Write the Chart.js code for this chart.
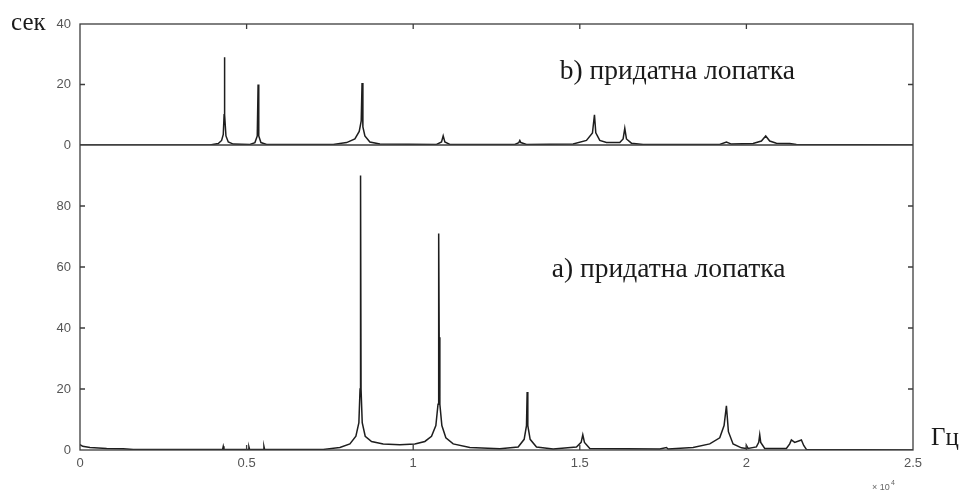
<!DOCTYPE html>
<html>
<head>
<meta charset="utf-8">
<script src="https://cdn.jsdelivr.net/npm/chart.js@4"></script>
<style>
  html, body { margin: 0; padding: 0; background: #fff; }
  #wrap { width: 964px; height: 493px; }
</style>
</head>
<body>
<div id="wrap"><canvas id="spectrum" width="964" height="493"></canvas></div>
<script>
// b) upper panel - frequency (Hz) and amplitude
const freqB = [0, 3900, 4150, 4250, 4300, 4325, 4335, 4345, 4380, 4450, 4600,
    5100, 5250, 5320, 5345, 5365, 5430, 5600,
    7600, 8000, 8250, 8380, 8440, 8465, 8490, 8550, 8700, 9000,
    10700, 10850, 10900, 10950, 11100,
    13050, 13170, 13200, 13230, 13400,
    14800, 15200, 15380, 15440, 15480, 15600, 15800,
    16200, 16300, 16350, 16400, 16550, 16900,
    19200, 19400, 19550, 20200, 20450, 20580, 20700, 20900, 21300, 21500, 25000];
const ampB = [0, 0, 0.5, 1.5, 3.5, 10, 29, 10, 3, 1, 0.3,
    0.2, 0.8, 3, 20, 3, 0.8, 0.2,
    0.2, 0.8, 2, 4.5, 8, 20.5, 6, 3, 1, 0.3,
    0.2, 1, 3, 1, 0.2,
    0.2, 0.8, 1.5, 0.8, 0.2,
    0.3, 1.5, 4, 10, 4, 1.5, 0.8,
    0.8, 2, 5.5, 2, 0.6, 0.2,
    0.2, 1, 0.3, 0.5, 1.3, 3, 1.3, 0.6, 0.5, 0.2, 0];

// a) lower panel
const freqA = [0, 80, 300, 800, 1300, 1600, 4280, 4300, 4320, 5050, 5070, 5090, 5500, 5520, 5540,
    7300, 7800, 8100, 8280, 8370, 8405, 8420, 8435, 8470, 8560, 8750, 9100, 9600,
    10050, 10350, 10550, 10680, 10745, 10760, 10770, 10780, 10800, 10860, 10980, 11200, 11700,
    12600, 13150, 13330, 13400, 13420, 13440, 13510, 13700, 14200,
    14900, 15040, 15090, 15140, 15300, 17400, 17600, 17650,
    18400, 18900, 19200, 19330, 19400, 19460, 19600, 19850, 19990, 20000, 20050,
    20300, 20370, 20400, 20430, 20550, 21200, 21300, 21350, 21450, 21650, 21720, 21800, 25000];
const ampA = [1.8, 1.2, 0.8, 0.5, 0.4, 0.2, 0.2, 1.2, 0.2, 0.2, 1, 0.2, 0.2, 1.2, 0.2,
    0.2, 0.8, 2, 4.5, 9, 20, 90, 20, 9, 4.5, 2.8, 2, 1.7,
    2, 2.8, 4.5, 8, 15, 37, 71, 37, 15, 8, 4, 2, 0.8,
    0.4, 1, 3.5, 8, 19, 8, 3.5, 1, 0.3,
    1, 2.5, 5, 2.5, 0.5, 0.3, 0.8, 0.3,
    0.8, 2, 4, 8, 14.5, 6, 2, 0.7, 0.5, 1.5, 0.5,
    1, 2.5, 5, 2.5, 0.5, 0.5, 2, 3.3, 2.5, 3.3, 1.5, 0.2, 0];

const xTicks = [0, 5000, 10000, 15000, 20000, 25000];
const topTicks = [0, 20, 40];
const bottomTicks = [0, 20, 40, 60, 80, 100];

const toPoints = (xs, ys) => xs.map((f, i) => ({ x: f, y: ys[i] }));

const axisColor = '#3c3c3c';
const tickFont = { family: 'Liberation Sans', size: 13 };

// box, inward tick marks and labels like the MATLAB figure
const frame = {
    id: 'frame',
    afterDraw(chart) {
        const ctx = chart.ctx;
        const a = chart.chartArea;
        const sx = chart.scales.x, st = chart.scales.yTop, sb = chart.scales.yBot;
        ctx.save();
        ctx.strokeStyle = axisColor;
        ctx.lineWidth = 1.3;
        ctx.strokeRect(a.left, a.top, a.right - a.left, a.bottom - a.top);
        const mid = st.getPixelForValue(0);
        ctx.beginPath();
        ctx.moveTo(a.left, mid);
        ctx.lineTo(a.right, mid);
        // x ticks, pointing inwards
        xTicks.slice(1, -1).forEach(v => {
            const px = sx.getPixelForValue(v);
            ctx.moveTo(px, a.bottom); ctx.lineTo(px, a.bottom - 5);
            ctx.moveTo(px, a.top); ctx.lineTo(px, a.top + 5);
        });
        topTicks.slice(1, -1).forEach(v => {
            const py = st.getPixelForValue(v);
            ctx.moveTo(a.left, py); ctx.lineTo(a.left + 5, py);
            ctx.moveTo(a.right, py); ctx.lineTo(a.right - 5, py);
        });
        bottomTicks.slice(1, -1).forEach(v => {
            const py = sb.getPixelForValue(v);
            ctx.moveTo(a.left, py); ctx.lineTo(a.left + 5, py);
            ctx.moveTo(a.right, py); ctx.lineTo(a.right - 5, py);
        });
        ctx.stroke();

        ctx.fillStyle = '#1a1a1a';
        ctx.textBaseline = 'alphabetic';
        ctx.font = '27.5px "Liberation Serif"';
        ctx.textAlign = 'left';
        ctx.fillText('b) придатна лопатка', sx.getPixelForValue(14400), st.getPixelForValue(21.7));
        ctx.fillText('а) придатна лопатка', sx.getPixelForValue(14160), sb.getPixelForValue(56.7));
        ctx.font = '25px "Liberation Serif"';
        ctx.fillText('сек', a.left - 69, a.top + 6);
        ctx.fillText('Гц', a.right + 18, a.bottom - 5);
        ctx.fillStyle = '#666';
        ctx.font = '9px "Liberation Sans"';
        ctx.fillText('\u00d7 10', a.right - 41, a.bottom + 40);
        ctx.font = '7px "Liberation Sans"';
        ctx.fillText('4', a.right - 22, a.bottom + 35);
        ctx.restore();
    }
};

const lineStyle = {
    borderColor: '#1e1e1e',
    borderWidth: 1.5,
    pointRadius: 0,
    tension: 0,
    fill: false
};

new Chart(document.getElementById('spectrum').getContext('2d'), {
    type: 'line',
    data: {
        datasets: [
            Object.assign({ label: 'b', data: toPoints(freqB, ampB), yAxisID: 'yTop' }, lineStyle),
            Object.assign({ label: 'a', data: toPoints(freqA, ampA), yAxisID: 'yBot' }, lineStyle)
        ]
    },
    options: {
        responsive: false,
        animation: false,
        layout: { padding: { left: 0, right: 51, top: 24, bottom: 0 } },
        plugins: {
            legend: { display: false },
            tooltip: { enabled: false }
        },
        scales: {
            x: {
                type: 'linear',
                min: 0,
                max: 25000,
                afterFit: s => { s.height = 43; },
                afterBuildTicks: s => { s.ticks = xTicks.map(v => ({ value: v })); },
                ticks: {
                    color: '#555',
                    font: tickFont,
                    padding: 6,
                    maxRotation: 0,
                    callback: v => String(v / 10000)
                },
                grid: { drawOnChartArea: false, drawTicks: false },
                border: { display: false }
            },
            yTop: {
                type: 'linear',
                position: 'left',
                stack: 'panels',
                stackWeight: 121,
                weight: 2,
                min: 0,
                max: 40,
                afterFit: s => { s.width = 80; },
                afterBuildTicks: s => { s.ticks = topTicks.map(v => ({ value: v })); },
                ticks: { color: '#555', font: tickFont, padding: 9 },
                grid: { drawOnChartArea: false, drawTicks: false },
                border: { display: false }
            },
            yBot: {
                type: 'linear',
                position: 'left',
                stack: 'panels',
                stackWeight: 305,
                weight: 1,
                min: 0,
                max: 100,
                afterFit: s => { s.width = 80; },
                afterBuildTicks: s => { s.ticks = bottomTicks.map(v => ({ value: v })); },
                ticks: {
                    color: '#555',
                    font: tickFont,
                    padding: 9,
                    callback: v => (v === 100 ? '' : v)
                },
                grid: { drawOnChartArea: false, drawTicks: false },
                border: { display: false }
            }
        }
    },
    plugins: [frame]
});
</script>
</body>
</html>
